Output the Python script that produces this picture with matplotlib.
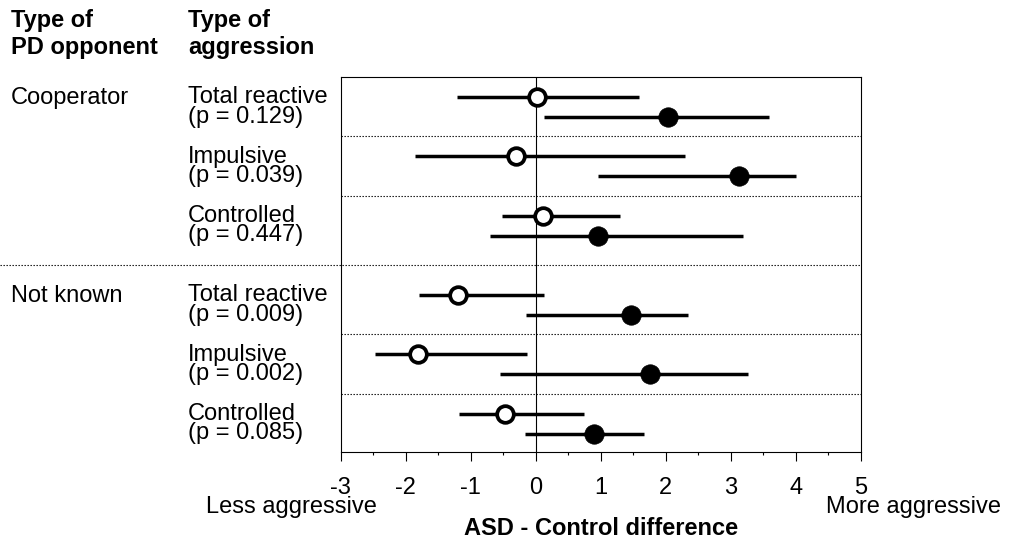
import matplotlib.pyplot as plt
import numpy as np
from matplotlib.transforms import blended_transform_factory

plt.rcParams['font.family'] = ['Liberation Sans', 'DejaVu Sans']
plt.rcParams['axes.unicode_minus'] = False

# data
opponents = ['Cooperator', 'Not known']
aggression = ['Total reactive', 'Impulsive', 'Controlled',
              'Total reactive', 'Impulsive', 'Controlled']
p_values = ['0.129', '0.039', '0.447', '0.009', '0.002', '0.085']

open_mean = [0.02, -0.31, 0.11, -1.19, -1.81, -0.48]
open_lo = [-1.21, -1.86, -0.52, -1.80, -2.48, -1.18]
open_hi = [1.58, 2.29, 1.29, 0.12, -0.13, 0.74]

filled_mean = [2.04, 3.13, 0.96, 1.46, 1.75, 0.90]
filled_lo = [0.12, 0.95, -0.70, -0.15, -0.55, -0.16]
filled_hi = [3.59, 4.00, 3.19, 2.34, 3.26, 1.66]

xticks = [-3, -2, -1, 0, 1, 2, 3, 4, 5]
xtick_labels = ['-3', '-2', '-1', '0', '1', '2', '3', '4', '5']

FS = 17

fig = plt.figure(figsize=(10.09, 5.42), dpi=100)
ax = fig.add_axes([340.7 / 1009, 1 - 451.7 / 542, 520.3 / 1009, 375 / 542])

# row positions: 6 rows, extra gap between the two opponent blocks
n = len(aggression)
centers = np.array([3.0 + 5.95 * i + (1.95 if i >= 3 else 0) for i in range(n)])
y_open = centers - 1.0
y_filled = centers + 1.0

om = np.array(open_mean)
fm = np.array(filled_mean)
ax.errorbar(om, y_open, xerr=[om - np.array(open_lo), np.array(open_hi) - om],
            fmt='o', color='black', ecolor='black', elinewidth=2.5, capsize=0,
            ms=12, mfc='white', mec='black', mew=2.7, zorder=4)
ax.errorbar(fm, y_filled, xerr=[fm - np.array(filled_lo), np.array(filled_hi) - fm],
            fmt='o', color='black', ecolor='black', elinewidth=2.5, capsize=0,
            ms=14, mfc='black', mec='black', mew=0.5, zorder=4)

ax.axvline(0, color='black', lw=0.8, zorder=1)

# dotted separators
dots = (0, (1.2, 1.5))
for i in range(n - 1):
    ymid = (centers[i] + centers[i + 1]) / 2
    if i == 2:
        ax.plot([-340.7 / 520.3, 1], [ymid, ymid], color='black', lw=0.8,
                ls=dots, transform=blended_transform_factory(ax.transAxes, ax.transData),
                clip_on=False)
    else:
        ax.axhline(ymid, color='black', lw=0.8, ls=dots)

ax.set_xlim(-3, 5)
ax.set_ylim(37.5, 0)
ax.set_yticks([])
ax.set_xticks(xticks)
ax.set_xticklabels(xtick_labels, fontsize=FS)
ax.set_xticks(np.arange(-2.5, 5, 1.0), minor=True)
ax.tick_params(axis='x', which='major', direction='out', length=6.5, width=0.8, pad=11.5)
ax.tick_params(axis='x', which='minor', direction='out', length=2.5, width=0.8)
for s in ax.spines.values():
    s.set_linewidth(0.8)

# row labels (baseline of the last line is used for alignment)
tr = blended_transform_factory(fig.transFigure, ax.transData)
for i in range(n):
    ax.text(188 / 1009, centers[i] + 1.58, aggression[i] + '\n(p = ' + p_values[i] + ')',
            transform=tr, fontsize=FS, va='baseline', ha='left', linespacing=0.83,
            clip_on=False)
for k, name in enumerate(opponents):
    ax.text(11 / 1009, centers[3 * k] - 0.25, name, transform=tr,
            fontsize=FS, va='baseline', ha='left', clip_on=False)

# headers
fig.text(11 / 1009, 1 - 54 / 542, 'Type of\nPD opponent', fontsize=FS,
         fontweight='bold', va='baseline', linespacing=1.23)
fig.text(188 / 1009, 1 - 54 / 542, 'Type of\naggression', fontsize=FS,
         fontweight='bold', va='baseline', linespacing=1.23)

# bottom labels
fig.text(206 / 1009, 1 - 513 / 542, 'Less aggressive', fontsize=FS, va='baseline', ha='left')
fig.text(1001 / 1009, 1 - 513 / 542, 'More aggressive', fontsize=FS, va='baseline', ha='right')
fig.text(601 / 1009, 1 - 535 / 542, 'ASD - Control difference', fontsize=FS,
         fontweight='bold', va='baseline', ha='center')

fig.savefig('out.png', dpi=100)
